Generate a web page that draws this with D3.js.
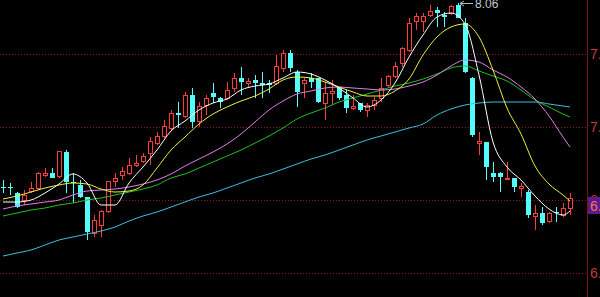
<!DOCTYPE html>
<html>
<head>
<meta charset="utf-8">
<script src="https://cdn.jsdelivr.net/npm/d3@7"></script>
<style>
    html, body { margin: 0; padding: 0; background: #000; overflow: hidden; }
</style>
</head>
<body>
<svg id="kline" width="600" height="297"></svg>
<script>

//*************************************************//
// Daily k-line data (one entry per trading day)
//*************************************************//
var opens  = [6.96, 6.96, 6.92, 6.88, 6.93, 6.95, 7.03, 7.04, 7.02, 7.17,
              6.99, 6.97, 6.90, 6.68, 6.73, 6.81, 6.99, 7.03, 7.04, 7.09,
              7.11, 7.16, 7.22, 7.26, 7.31, 7.40, 7.38, 7.51, 7.35, 7.45,
              7.52, 7.49, 7.49, 7.55, 7.61, 7.58, 7.60, 7.58, 7.58, 7.58,
              7.67, 7.76, 7.65, 7.58, 7.61, 7.61, 7.46, 7.52, 7.56, 7.51,
              7.43, 7.46, 7.42, 7.45, 7.49, 7.57, 7.62, 7.70, 7.78, 7.95,
              7.95, 7.99, 8.02, 7.99, 8.00, 8.05, 7.94, 7.61, 7.22, 7.23,
              7.04, 7.04, 7.01, 7.01, 6.95, 6.93, 6.78, 6.80, 6.75, 6.81,
              6.79, 6.83];
var highs  = [7.00, 6.98, 6.93, 6.94, 6.99, 7.05, 7.07, 7.07, 7.17, 7.18,
              7.04, 7.00, 6.90, 6.79, 6.82, 6.99, 7.04, 7.08, 7.13, 7.15,
              7.16, 7.26, 7.29, 7.36, 7.42, 7.47, 7.53, 7.55, 7.47, 7.51,
              7.58, 7.50, 7.59, 7.64, 7.68, 7.61, 7.63, 7.65, 7.60, 7.75,
              7.78, 7.78, 7.66, 7.61, 7.64, 7.61, 7.59, 7.60, 7.56, 7.54,
              7.51, 7.46, 7.46, 7.50, 7.61, 7.63, 7.71, 7.80, 7.97, 8.00,
              8.00, 8.05, 8.04, 8.01, 8.05, 8.06, 7.97, 7.62, 7.29, 7.23,
              7.11, 7.05, 7.11, 7.01, 6.98, 6.94, 6.85, 6.84, 6.81, 6.84,
              6.86, 6.92];
var lows   = [6.92, 6.91, 6.83, 6.85, 6.92, 6.94, 7.02, 7.01, 7.01, 6.92,
              6.86, 6.89, 6.64, 6.66, 6.66, 6.80, 6.96, 7.00, 7.03, 7.08,
              7.10, 7.09, 7.21, 7.25, 7.30, 7.31, 7.37, 7.31, 7.32, 7.39,
              7.46, 7.43, 7.48, 7.53, 7.51, 7.55, 7.49, 7.49, 7.52, 7.57,
              7.65, 7.65, 7.44, 7.49, 7.55, 7.46, 7.36, 7.45, 7.48, 7.40,
              7.42, 7.41, 7.38, 7.42, 7.47, 7.56, 7.61, 7.68, 7.77, 7.90,
              7.89, 7.98, 7.92, 7.92, 7.99, 7.97, 7.64, 7.26, 7.15, 7.00,
              6.99, 6.93, 7.00, 6.93, 6.90, 6.77, 6.70, 6.73, 6.74, 6.75,
              6.78, 6.79];
var closes = [6.95, 6.95, 6.84, 6.91, 6.95, 7.04, 7.04, 7.01, 7.17, 6.99,
              6.98, 6.90, 6.69, 6.76, 6.81, 6.99, 7.01, 7.05, 7.09, 7.10,
              7.14, 7.23, 7.26, 7.32, 7.40, 7.39, 7.51, 7.35, 7.44, 7.49,
              7.50, 7.47, 7.54, 7.61, 7.59, 7.59, 7.58, 7.57, 7.57, 7.68,
              7.76, 7.67, 7.53, 7.60, 7.59, 7.47, 7.52, 7.53, 7.49, 7.43,
              7.44, 7.42, 7.45, 7.48, 7.55, 7.62, 7.68, 7.79, 7.94, 7.98,
              7.98, 8.01, 8.00, 7.98, 8.04, 7.97, 7.65, 7.27, 7.23, 7.08,
              7.02, 7.02, 7.01, 6.96, 6.96, 6.79, 6.80, 6.74, 6.80, 6.80,
              6.83, 6.89];

//*************************************************//
// Moving averages, read at every second day
//*************************************************//
var maDays = [0, 2, 4, 6, 8, 10, 12, 14, 16, 18, 20, 22, 24, 26, 28, 30, 32, 34, 36, 38,
              40, 42, 44, 46, 48, 50, 52, 54, 56, 58, 60, 62, 64, 66, 68, 70, 72, 74, 76, 78,
              80, 81];
var ma5  = [6.868, 6.868, 6.880, 6.922, 6.976, 7.036, 6.982, 6.850, 6.850, 6.982,
            7.078, 7.180, 7.294, 7.354, 7.420, 7.462, 7.486, 7.540, 7.564, 7.576,
            7.612, 7.648, 7.636, 7.600, 7.552, 7.492, 7.438, 7.480, 7.582, 7.738,
            7.870, 7.978, 8.002, 7.936, 7.630, 7.228, 7.078, 7.000, 6.904, 6.826,
            6.790, 6.814];
var ma10 = [6.886, 6.904, 6.928, 6.952, 6.970, 6.982, 6.976, 6.946, 6.928, 6.934,
            6.970, 7.072, 7.180, 7.258, 7.336, 7.396, 7.438, 7.474, 7.504, 7.546,
            7.600, 7.618, 7.612, 7.588, 7.558, 7.528, 7.504, 7.504, 7.534, 7.606,
            7.750, 7.858, 7.918, 7.936, 7.858, 7.660, 7.432, 7.276, 7.084, 6.976,
            6.910, 6.874];
var ma20 = [6.826, 6.844, 6.856, 6.868, 6.880, 6.910, 6.934, 6.940, 6.946, 6.958,
            6.976, 7.000, 7.036, 7.084, 7.126, 7.168, 7.216, 7.276, 7.348, 7.420,
            7.474, 7.516, 7.534, 7.552, 7.558, 7.552, 7.546, 7.540, 7.546, 7.564,
            7.588, 7.630, 7.684, 7.720, 7.708, 7.660, 7.618, 7.558, 7.486, 7.384,
            7.258, 7.198];
var ma30 = [6.784, 6.802, 6.820, 6.832, 6.850, 6.862, 6.880, 6.892, 6.910, 6.928,
            6.946, 6.970, 7.012, 7.036, 7.072, 7.108, 7.144, 7.180, 7.222, 7.264,
            7.312, 7.366, 7.402, 7.432, 7.468, 7.492, 7.516, 7.540, 7.564, 7.582,
            7.606, 7.636, 7.672, 7.684, 7.654, 7.624, 7.594, 7.540, 7.480, 7.438,
            7.396, 7.378];
var ma60 = [6.544, 6.562, 6.580, 6.610, 6.640, 6.658, 6.676, 6.694, 6.718, 6.754,
            6.784, 6.808, 6.838, 6.868, 6.898, 6.922, 6.952, 6.982, 7.012, 7.036,
            7.066, 7.096, 7.126, 7.150, 7.180, 7.210, 7.240, 7.264, 7.288, 7.312,
            7.336, 7.390, 7.426, 7.450, 7.462, 7.468, 7.468, 7.468, 7.468, 7.456,
            7.444, 7.438];

// Price scale labels on the right
var gridValues = [7.756, 7.318, 6.880, 6.442];
var gridLabels = ["7.76", "7.32", "6.88", "6.44"];

// Marker texts
var highLabel = "8.06";
var lastLabel = "6.89";


//*************************************************//
// Setup
//*************************************************//
var width = 600, height = 297;
var axisX = 587;

var svg = d3.select('#kline');

svg.append('rect')
    .attr('width', width)
    .attr('height', height)
    .attr('fill', '#000');

// x is the day index, y is the price
var x = d3.scaleLinear().domain([0, opens.length - 1]).range([3, 570]);
var y = d3.scaleLinear().domain([8.08, 6.298]).range([0, height]);

var days = d3.range(opens.length);


/*****************************/
// Grid lines and price labels
/*****************************/
svg.append('g')
    .selectAll('line')
    .data(gridValues)
    .join('line')
    .attr('x1', 0)
    .attr('x2', axisX)
    .attr('y1', function(d) { return Math.round(y(d)) + 0.5; })
    .attr('y2', function(d) { return Math.round(y(d)) + 0.5; })
    .attr('stroke', '#8a1c1c')
    .attr('stroke-dasharray', '1,2');

svg.append('g')
    .selectAll('text')
    .data(gridValues)
    .join('text')
    .attr('x', 590)
    .attr('y', function(d) { return y(d) + 5; })
    .attr('fill', '#c83a3a')
    .attr('font-family', 'Liberation Sans, Arial, sans-serif')
    .attr('font-size', '14px')
    .text(function(d, i) { return gridLabels[i]; });

// Right axis line
svg.append('line')
    .attr('x1', axisX + 0.5)
    .attr('x2', axisX + 0.5)
    .attr('y1', 0)
    .attr('y2', height)
    .attr('stroke', '#7a1414');


/*****************************/
// Candles
/*****************************/
var isUp = function(i) { return closes[i] >= opens[i]; };

var candles = svg.append('g')
    .attr('shape-rendering', 'crispEdges');

// Wicks
candles.selectAll('line.wick')
    .data(days)
    .join('line')
    .attr('class', 'wick')
    .attr('x1', function(i) { return Math.round(x(i)) + 0.5; })
    .attr('x2', function(i) { return Math.round(x(i)) + 0.5; })
    .attr('y1', function(i) { return y(highs[i]); })
    .attr('y2', function(i) { return y(lows[i]); })
    .attr('stroke', function(i) { return isUp(i) ? '#ff3c3c' : '#54fcfc'; });

// Bodies
candles.selectAll('rect.body')
    .data(days)
    .join('rect')
    .attr('class', 'body')
    .attr('x', function(i) { return isUp(i) ? Math.round(x(i)) - 1.5 : Math.round(x(i)) - 2; })
    .attr('width', function(i) { return isUp(i) ? 4 : 5; })
    .attr('y', function(i) { return y(Math.max(opens[i], closes[i])); })
    .attr('height', function(i) {
        return Math.max(1, Math.abs(y(opens[i]) - y(closes[i])));
    })
    .attr('fill', function(i) { return isUp(i) ? '#000' : '#54fcfc'; })
    .attr('stroke', function(i) { return isUp(i) ? '#ff3c3c' : 'none'; });


/*****************************/
// Moving average lines
/*****************************/
var maLines = [
    { values: ma60, color: '#3fbfdc' },
    { values: ma30, color: '#20c020' },
    { values: ma20, color: '#e080e8' },
    { values: ma10, color: '#f0f040' },
    { values: ma5,  color: '#ffffff' }
];

var line = d3.line()
    .x(function(d, i) { return x(maDays[i]); })
    .y(function(d) { return y(d); })
    .curve(d3.curveMonotoneX);

svg.append('g')
    .selectAll('path')
    .data(maLines)
    .join('path')
    .attr('d', function(d) { return line(d.values); })
    .attr('fill', 'none')
    .attr('stroke', function(d) { return d.color; })
    .attr('stroke-width', 1);


/*****************************/
// Highest price marker
/*****************************/
var highDay = d3.maxIndex(highs);
var hx = Math.round(x(highDay)) + 2;
var hy = Math.round(y(highs[highDay])) + 0.5;

svg.append('line')
    .attr('x1', hx)
    .attr('x2', hx + 13)
    .attr('y1', hy)
    .attr('y2', hy)
    .attr('stroke', '#b8b8c8');

svg.append('path')
    .attr('d', 'M' + hx + ',' + hy + 'l4,-2.5M' + hx + ',' + hy + 'l4,2.5')
    .attr('stroke', '#b8b8c8')
    .attr('fill', 'none');

svg.append('text')
    .attr('x', hx + 15)
    .attr('y', hy + 4.5)
    .attr('fill', '#c8c8d0')
    .attr('font-family', 'Liberation Sans, Arial, sans-serif')
    .attr('font-size', '12px')
    .text(highLabel);


/*****************************/
// Last price tag
/*****************************/
var lastY = y(closes[closes.length - 1]);

svg.append('rect')
    .attr('x', axisX + 1)
    .attr('y', Math.round(lastY) - 1)
    .attr('width', width - axisX - 1)
    .attr('height', 17)
    .attr('fill', '#5a1a90');

svg.append('text')
    .attr('x', 590)
    .attr('y', Math.round(lastY) + 13)
    .attr('fill', '#ff7050')
    .attr('font-family', 'Liberation Sans, Arial, sans-serif')
    .attr('font-size', '14px')
    .text(lastLabel);

</script>
</body>
</html>
